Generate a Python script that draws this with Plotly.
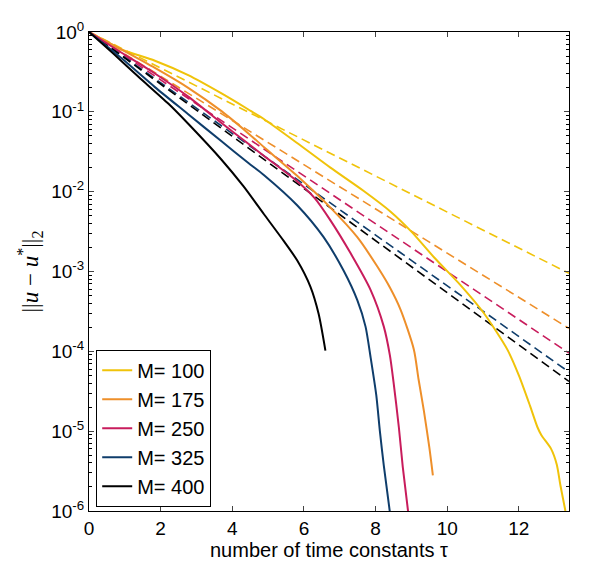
import plotly.graph_objects as go

# solid curves (error vs number of time constants)
t_100 = [0, 0.45, 0.91, 1.84, 2.77, 3.70, 4.45, 4.88, 5.81, 6.74, 7.67, 8.42, 9.0, 9.63, 10.37, 11.02, 11.68, 12.0, 12.31, 12.52, 12.63, 12.9, 13.06, 13.16, 13.3]
e_100 = [1, 0.776, 0.603, 0.437, 0.288, 0.170, 0.107, 0.0813, 0.0407, 0.020, 0.0102, 0.00562, 0.00316, 0.00151, 6.76e-4, 3.02e-4, 1.05e-4, 5.0e-5, 2.09e-5, 1.12e-5, 8.9e-6, 6.0e-6, 3.8e-6, 2.1e-6, 1.0e-6]

t_175 = [0, 0.91, 1.84, 2.77, 3.70, 4.45, 4.88, 5.81, 6.74, 7.49, 8.04, 8.4, 8.7, 9.07, 9.2, 9.35, 9.5, 9.6]
e_175 = [1, 0.603, 0.355, 0.2, 0.102, 0.0537, 0.0363, 0.0158, 0.00631, 0.00269, 0.00117, 6.3e-4, 3.31e-4, 1.05e-4, 4.47e-5, 1.78e-5, 6.3e-6, 2.8e-6]

t_250 = [0, 0.91, 1.84, 2.77, 3.70, 4.45, 4.88, 5.81, 6.3, 6.74, 7.3, 7.86, 8.23, 8.4, 8.5, 8.65, 8.76, 8.92]
e_250 = [1, 0.55, 0.302, 0.155, 0.0724, 0.0398, 0.0282, 0.0135, 0.0083, 0.00437, 0.0017, 5.89e-4, 2.04e-4, 8.9e-5, 4.17e-5, 1.12e-5, 3.55e-6, 8.9e-7]

t_325 = [0, 0.91, 1.84, 2.77, 3.70, 4.45, 4.88, 5.81, 6.55, 7.11, 7.49, 7.72, 7.86, 8.02, 8.12, 8.23, 8.41]
e_325 = [1, 0.468, 0.204, 0.0933, 0.0427, 0.0229, 0.0162, 0.00676, 0.00269, 0.00102, 4.37e-4, 2.04e-4, 8.5e-5, 2.82e-5, 1.0e-5, 3.7e-6, 8.9e-7]

t_400 = [0, 0.7, 1.38, 2.22, 2.77, 3.70, 4.31, 4.88, 5.44, 5.81, 6.18, 6.41, 6.6]
e_400 = [1, 0.525, 0.275, 0.126, 0.0708, 0.0251, 0.0117, 0.00525, 0.0024, 0.00138, 6.46e-4, 2.95e-4, 1.02e-4]

# dashed reference lines (start and end points)
t_ref = [0, 13.4]
ref_100 = [1, 9.5e-4]
ref_175 = [1, 1.94e-4]
ref_250 = [1, 9.5e-5]
ref_325 = [1, 5.5e-5]
ref_400 = [1, 4.2e-5]

labels = ['M= 100', 'M= 175', 'M= 250', 'M= 325', 'M= 400']
colors = ['#F0C30A', '#EE8F2A', '#C81C5C', '#0F3D6B', '#000000']

x_ticks = [0, 2, 4, 6, 8, 10, 12]
y_ticks = [1e-6, 1e-5, 1e-4, 1e-3, 1e-2, 1e-1, 1]
y_ticktext = ['10<sup>-6</sup>', '10<sup>-5</sup>', '10<sup>-4</sup>', '10<sup>-3</sup>',
              '10<sup>-2</sup>', '10<sup>-1</sup>', '10<sup>0</sup>']
y_minor = [m * d for d in [1e-6, 1e-5, 1e-4, 1e-3, 1e-2, 1e-1] for m in range(2, 10)]

curves = [(t_100, e_100), (t_175, e_175), (t_250, e_250), (t_325, e_325), (t_400, e_400)]
refs = [ref_100, ref_175, ref_250, ref_325, ref_400]

fig = go.Figure()
for ref, c in zip(refs, colors):
    fig.add_trace(go.Scatter(x=t_ref, y=ref, mode='lines', showlegend=False,
                             line=dict(color=c, width=1.6, dash='9px,5px')))
for (t, e), name, c in zip(curves, labels, colors):
    fig.add_trace(go.Scatter(x=t, y=e, mode='lines', name=name,
                             line=dict(color=c, width=2, shape='spline', smoothing=0.7)))

sans = 'Liberation Sans, Arial, sans-serif'
fig.update_layout(
    width=592, height=572,
    margin=dict(l=81, r=31, t=24, b=69),
    paper_bgcolor='white', plot_bgcolor='white',
    font=dict(family=sans, size=19, color='black'),
    legend=dict(x=0.015, y=0.009, xanchor='left', yanchor='bottom',
                bordercolor='black', borderwidth=1, bgcolor='white',
                font=dict(family=sans, size=20, color='black')),
    xaxis=dict(range=[0, 13.4], tickvals=x_ticks, ticks='inside', ticklen=5,
               showline=True, linecolor='black', linewidth=1, mirror='ticks',
               showgrid=False, zeroline=False,
               title=dict(text='number of time constants τ', standoff=2,
                          font=dict(family=sans, size=20, color='black'))),
    yaxis=dict(type='log', range=[-6, 0], tickvals=y_ticks, ticktext=y_ticktext,
               ticks='inside', ticklen=5,
               minor=dict(tickvals=y_minor, ticks='inside', ticklen=3, tickcolor='black'),
               showline=True, linecolor='black', linewidth=1, mirror='ticks',
               showgrid=False, zeroline=False,
               title=dict(text='||<i>u</i> − <i>u</i><sup>*</sup>||<sub>2</sub>', standoff=6,
                          font=dict(family='Liberation Serif, Times New Roman, serif', size=23, color='black'))),
)
fig.write_html("out.html")
